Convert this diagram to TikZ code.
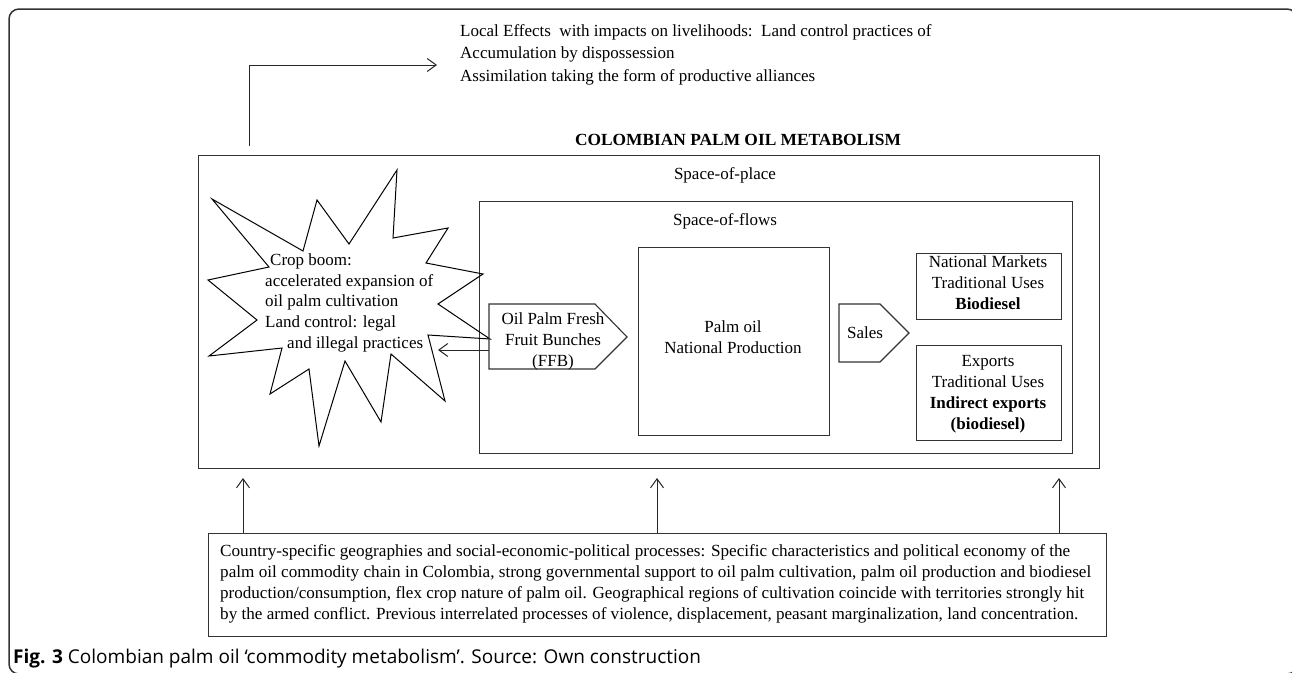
\documentclass[tikz,border=0pt]{standalone}
\usepackage{fontspec}
\setmainfont{Liberation Serif}
\newfontfamily\capfont{Open Sans}
\usetikzlibrary{arrows.meta}
\newcommand{\hfit}[2]{\resizebox{#1}{\height}{#2}}
\begin{document}
\begin{tikzpicture}[x=1pt,y=-1pt,
  every node/.style={font=\fontsize{17}{21}\selectfont, inner sep=0pt},
  box/.style={draw=black!80, line width=1.1pt},
  frame/.style={draw=black!80, line width=1.5pt, rounded corners=10pt},
  arr/.style={draw=black!85, line width=1pt, -{Straight Barb[length=9pt,width=13pt]}},
  burst/.style={draw=black, line width=1pt, line join=miter},
  lbl/.style={anchor=west}]
\useasboundingbox (0,0) rectangle (1292,672);
% outer frame
\draw[frame] (9,9) rectangle (1297,674);

% top effects text
\node[lbl] (eff1) at (460,32) {Local Effects\ \ with impacts on livelihoods:\ \ Land control practices of};
\node[lbl] (eff2) at (460,54) {Accumulation by dispossession};
\node[lbl] (eff3) at (460,77) {Assimilation taking the form of productive alliances};

% title
\node[font=\fontsize{17}{21}\selectfont\bfseries] (title) at (738,140) {\hfit{326pt}{COLOMBIAN PALM OIL METABOLISM}};

% space of place / flows
\node[box, anchor=north west, minimum width=901pt, minimum height=313pt] (place) at (198,155) {};
\node (placelbl) at (725,175) {Space-of-place};
\node[box, anchor=north west, minimum width=593pt, minimum height=252pt] (flows) at (479,201) {};
\node (flowlbl) at (725,221) {Space-of-flows};

% top arrow
\coordinate (tstart) at (249,146);
\coordinate (ttip) at (437,65);
\draw[arr] (tstart) |- (ttip);

% starburst
\draw[burst] (212,199) -- (303,251) -- (317,200) -- (349,244) -- (397,170) -- (393,238)
  -- (448,228) -- (426,263) -- (483,274) -- (438,304) -- (490,339) -- (428,335)
  -- (445,401) -- (391,354) -- (381,422) -- (345,361) -- (319,446) -- (309,369)
  -- (270,394) -- (282,348) -- (209,356) -- (257,320) -- (208,280) -- (269,267) -- cycle;
\node[lbl] (b1) at (270,261) {Crop boom:};
\node[lbl] (b2) at (265,282) {accelerated expansion of};
\node[lbl] (b3) at (265,302) {oil palm cultivation};
\node[lbl] (b4) at (265,323) {Land control: legal};
\node[lbl] (b5) at (287,344) {and illegal practices};

% FFB
\draw[box] (489,304) -- (595,304) -- (627,337) -- (595,369) -- (489,369) -- cycle;
\node[align=center] (ffb) at (553,341) {Oil Palm Fresh\\Fruit Bunches\\(FFB)};
\coordinate (ffbW) at (489,350);
\coordinate (burstpt) at (438,350);
\draw[arr] (ffbW) -- (burstpt);

% palm oil production
\node[box, anchor=north west, minimum width=191pt, minimum height=188pt] (prod) at (638,247) {};
\node[align=center] (prodlbl) at (733,337) {Palm oil\\National Production};

% sales
\draw[box] (839,304) -- (880,304) -- (909,333) -- (880,362) -- (839,362) -- cycle;
\node (sales) at (865,333) {Sales};

% markets
\node[box, anchor=north west, minimum width=145pt, minimum height=66pt] (nat) at (916,253) {};
\node[align=center] (natlbl) at (988,283) {National Markets\\Traditional Uses\\\textbf{Biodiesel}};
\node[box, anchor=north west, minimum width=145pt, minimum height=95pt] (exp) at (916,345) {};
\node[align=center] (explbl) at (988,394) {Exports\\Traditional Uses\\\textbf{Indirect exports}\\\textbf{(biodiesel)}};

% bottom box
\node[box, anchor=north west, minimum width=898pt, minimum height=103pt] (bot) at (208,533) {};
\node[lbl] (c1) at (220,552) {\hfit{850pt}{Country-specific geographies and social-economic-political processes: Specific characteristics and political economy of the}};
\node[lbl] (c2) at (220,573) {\hfit{871pt}{palm oil commodity chain in Colombia, strong governmental support to oil palm cultivation, palm oil production and biodiesel}};
\node[lbl] (c3) at (220,594) {\hfit{864pt}{production/consumption, flex crop nature of palm oil. Geographical regions of cultivation coincide with territories strongly hit}};
\node[lbl] (c4) at (220,615) {\hfit{858pt}{by the armed conflict. Previous interrelated processes of violence, displacement, peasant marginalization, land concentration.}};

% up arrows
\coordinate (u1) at (243,478);
\coordinate (u2) at (657,478);
\coordinate (u3) at (1059,478);
\draw[arr] (bot.north -| u1) -- (u1);
\draw[arr] (bot.north -| u2) -- (u2);
\draw[arr] (bot.north -| u3) -- (u3);

% caption
\node[lbl, font=\capfont\fontsize{19}{22}\selectfont] (cap) at (13,659) {\textbf{Fig. 3} Colombian palm oil ‘commodity metabolism’. Source: Own construction};
\end{tikzpicture}
\end{document}
